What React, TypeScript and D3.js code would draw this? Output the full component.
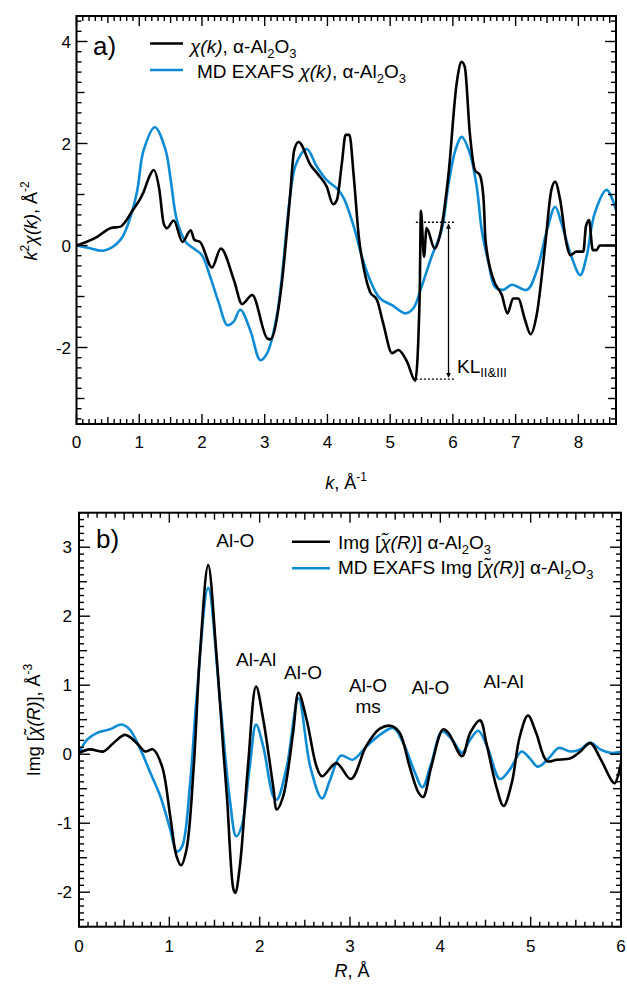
import React from "react";
import * as d3 from "d3";

// ---------- Panel a data: k^2 chi(k) ----------
const kExp = [0, 0.33, 0.54, 0.7, 0.89, 1.07, 1.15, 1.23, 1.32, 1.39, 1.44, 1.55, 1.69, 1.82, 1.88, 1.97, 2.16, 2.3, 2.51, 2.64, 2.8, 3.04, 3.09, 3.26, 3.4, 3.47, 3.54, 3.73, 3.86, 3.99, 4.09, 4.15, 4.23, 4.29, 4.35, 4.42, 4.5, 4.58, 4.68, 4.79, 4.89, 5.03, 5.13, 5.27, 5.4, 5.47, 5.49, 5.54, 5.58, 5.71, 5.8, 5.93, 6.06, 6.14, 6.19, 6.27, 6.35, 6.43, 6.49, 6.52, 6.65, 6.78, 6.87, 6.96, 7.04, 7.15, 7.24, 7.34, 7.47, 7.57, 7.63, 7.71, 7.81, 7.87, 7.97, 8.08, 8.12, 8.17, 8.23, 8.29, 8.34, 8.6];
const chiExp = [0, 0.17, 0.34, 0.37, 0.68, 1.05, 1.32, 1.48, 1.1, 0.43, 0.34, 0.49, 0.07, 0.3, 0.11, 0.07, -0.43, -0.06, -0.68, -1.15, -0.97, -1.82, -1.84, -0.87, 0.9, 1.87, 2.03, 1.58, 1.38, 1.15, 0.81, 0.89, 1.61, 2.17, 2.17, 1.35, 0.17, -0.45, -0.91, -1.07, -1.53, -2.11, -2.05, -2.28, -2.65, -1.0, 0.68, -0.22, 0.34, -0.06, 0.24, 1.4, 3.18, 3.6, 3.5, 2.2, 1.48, 1.38, 0.89, 0.1, -0.68, -0.97, -1.33, -1.04, -1.04, -1.46, -1.74, -1.33, 0, 1.09, 1.25, 0.89, 0.04, -0.19, -0.12, -0.12, 0.37, 0.5, -0.09, -0.09, 0, 0];

const kMD = [0, 0.2, 0.44, 0.7, 0.86, 0.97, 1.07, 1.25, 1.42, 1.5, 1.6, 1.74, 1.87, 2.0, 2.13, 2.27, 2.4, 2.5, 2.61, 2.77, 2.93, 3.04, 3.2, 3.41, 3.5, 3.67, 3.83, 3.99, 4.15, 4.26, 4.42, 4.55, 4.68, 4.84, 5.03, 5.24, 5.37, 5.5, 5.66, 5.82, 5.93, 6.04, 6.14, 6.27, 6.38, 6.46, 6.57, 6.67, 6.8, 6.94, 7.18, 7.34, 7.5, 7.63, 7.73, 7.89, 8.03, 8.13, 8.26, 8.45, 8.6];
const chiMD = [0, -0.05, -0.1, 0.11, 0.56, 1.09, 1.87, 2.32, 1.87, 1.3, 0.5, 0.07, -0.06, -0.19, -0.61, -1.13, -1.56, -1.5, -1.26, -1.66, -2.25, -2.11, -1.33, 1.02, 1.6, 1.89, 1.55, 1.28, 1.12, 0.93, 0.37, -0.22, -0.68, -1.04, -1.17, -1.33, -1.23, -0.81, -0.22, 0.3, 1.2, 1.87, 2.13, 1.81, 1.15, 0.3, -0.35, -0.81, -0.87, -0.77, -0.87, -0.48, 0.3, 0.76, 0.44, -0.22, -0.58, -0.22, 0.63, 1.09, 0.7];

// ---------- Panel b data: Img[chi(R)] ----------
const rExp = [0, 0.12, 0.27, 0.38, 0.51, 0.64, 0.73, 0.82, 0.92, 1.01, 1.08, 1.13, 1.19, 1.27, 1.34, 1.43, 1.52, 1.6, 1.64, 1.71, 1.73, 1.78, 1.87, 1.96, 2.04, 2.15, 2.19, 2.26, 2.37, 2.43, 2.52, 2.63, 2.69, 2.85, 3.01, 3.18, 3.33, 3.46, 3.55, 3.66, 3.76, 3.81, 3.9, 4.03, 4.09, 4.24, 4.33, 4.44, 4.51, 4.62, 4.7, 4.79, 4.88, 4.97, 5.06, 5.18, 5.29, 5.44, 5.55, 5.66, 5.77, 5.9, 5.93, 6.0];
const imgExp = [0.02, 0.07, 0.04, 0.16, 0.28, 0.16, 0.04, 0.07, -0.18, -0.9, -1.48, -1.61, -1.38, -0.18, 1.47, 2.74, 1.47, 0.02, -0.66, -1.96, -2.01, -1.63, -0.18, 0.98, 0.5, -0.47, -0.8, -0.61, 0.31, 0.89, 0.5, -0.18, -0.32, -0.13, -0.36, 0.12, 0.37, 0.41, 0.31, -0.18, -0.56, -0.62, -0.18, 0.36, 0.31, -0.03, 0.31, 0.49, 0.16, -0.47, -0.75, -0.42, 0.26, 0.56, 0.31, -0.1, -0.08, -0.06, 0.04, 0.16, -0.06, -0.39, -0.42, -0.13];

const rMD = [0, 0.09, 0.2, 0.34, 0.47, 0.56, 0.68, 0.79, 0.9, 1.01, 1.08, 1.14, 1.23, 1.3, 1.43, 1.56, 1.67, 1.74, 1.8, 1.89, 1.96, 2.04, 2.15, 2.19, 2.3, 2.43, 2.56, 2.69, 2.78, 2.9, 3.03, 3.18, 3.33, 3.48, 3.59, 3.72, 3.8, 3.9, 4.02, 4.13, 4.24, 4.33, 4.42, 4.53, 4.66, 4.77, 4.9, 4.99, 5.08, 5.2, 5.31, 5.44, 5.55, 5.66, 5.77, 5.88, 6.0];
const imgMD = [0.02, 0.21, 0.31, 0.36, 0.43, 0.36, 0.07, -0.27, -0.61, -1.09, -1.41, -1.34, -0.42, 0.79, 2.41, 0.79, -0.66, -1.19, -1.05, -0.18, 0.43, 0.11, -0.61, -0.66, -0.18, 0.81, -0.18, -0.64, -0.37, -0.02, -0.08, 0.11, 0.28, 0.38, 0.16, -0.27, -0.48, -0.13, 0.33, 0.21, 0.02, 0.21, 0.34, 0.07, -0.36, -0.22, 0.04, -0.06, -0.18, -0.06, 0.09, 0.04, 0.07, 0.17, 0.07, 0.02, 0.03];

// tick label lists
const aXTicks = [0, 1, 2, 3, 4, 5, 6, 7, 8];
const aYTicks = [-2, 0, 2, 4];
const bXTicks = [0, 1, 2, 3, 4, 5, 6];
const bYTicks = [-2, -1, 0, 1, 2, 3];

// peak labels for panel b
const peakLabels = [
  { text: "Al-O", x: 1.73, y: 3.0 },
  { text: "Al-Al", x: 1.96, y: 1.28 },
  { text: "Al-O", x: 2.48, y: 1.09 },
  { text: "Al-O", x: 3.2, y: 0.9 },
  { text: "Al-O", x: 3.89, y: 0.87 },
  { text: "Al-Al", x: 4.7, y: 0.96 },
];

const BLUE = "#0d8bd4";
const FONT = "'Liberation Sans', Arial, Helvetica, sans-serif";

function range(min: number, max: number, step: number) {
  const n = Math.round((max - min) / step);
  const out: number[] = [];
  for (let i = 0; i <= n; i++) out.push(+(min + i * step).toFixed(6));
  return out;
}
const isMult = (v: number, m: number) => Math.abs(v / m - Math.round(v / m)) < 1e-6;

type Frame = { x: d3.ScaleLinear<number, number>; y: d3.ScaleLinear<number, number> };

function AxisFrame({ x, y, xMinor, yMinor, yMajor2 }: Frame & { xMinor: number; yMinor: number; yMajor2?: boolean }) {
  const [x0, x1] = x.range();
  const [y0, y1] = y.range();
  const xd = x.domain();
  const yd = y.domain();
  const xt = range(Math.ceil(xd[0] / xMinor) * xMinor, Math.floor(xd[1] / xMinor + 1e-6) * xMinor, xMinor);
  const yt = range(Math.ceil(yd[0] / yMinor - 1e-6) * yMinor, Math.floor(yd[1] / yMinor + 1e-6) * yMinor, yMinor);
  const xLen = (v: number) => (isMult(v, 1) ? 10 : isMult(v, 0.5) ? 7 : 5);
  const yLen = (v: number) =>
    yMajor2 ? (isMult(v, 2) ? 11 : isMult(v, 1) ? 8 : 5) : isMult(v, 1) ? 11 : isMult(v, 0.5) ? 8 : 5;
  return (
    <g stroke="#000" strokeWidth={1.4}>
      {xt.map((v, i) => (
        <g key={"x" + i}>
          <line x1={x(v)} x2={x(v)} y1={y0} y2={y0 - xLen(v)} />
          <line x1={x(v)} x2={x(v)} y1={y1} y2={y1 + xLen(v)} />
        </g>
      ))}
      {yt.map((v, i) => (
        <g key={"y" + i}>
          <line x1={x0} x2={x0 + yLen(v)} y1={y(v)} y2={y(v)} />
          <line x1={x1} x2={x1 - yLen(v)} y1={y(v)} y2={y(v)} />
        </g>
      ))}
      <rect x={x0} y={y1} width={x1 - x0} height={y0 - y1} fill="none" strokeWidth={2} />
    </g>
  );
}

export default function App() {
  const ax = d3.scaleLinear().domain([0, 8.6]).range([76.5, 616]);
  const ay = d3.scaleLinear().domain([-3.5, 4.5]).range([424, 16]);
  const bx = d3.scaleLinear().domain([0, 6]).range([79, 621]);
  const by = d3.scaleLinear().domain([-2.5, 3.5]).range([926.7, 512.7]);

  const mono = d3.line<[number, number]>().curve(d3.curveMonotoneX);
  const smooth = d3.line<[number, number]>().curve(d3.curveCatmullRom.alpha(0.5));

  const expA = mono(kExp.map((k, i) => [ax(k), ay(chiExp[i])] as [number, number]));
  const mdA = smooth(kMD.map((k, i) => [ax(k), ay(chiMD[i])] as [number, number]));
  const expB = smooth(rExp.map((r, i) => [bx(r), by(imgExp[i])] as [number, number]));
  const mdB = smooth(rMD.map((r, i) => [bx(r), by(imgMD[i])] as [number, number]));

  const klTop = 0.455;
  const klBot = -2.62;
  const klX0 = 5.41;
  const klX1 = 6.03;
  const klArrow = 5.93;

  return (
    <svg width={627} height={984} style={{ position: "absolute", left: 0, top: 0, background: "#fff" }} fontFamily={FONT}>
      <defs>
        <marker id="ah" viewBox="0 0 10 10" refX="9" refY="5" markerWidth="5" markerHeight="7" orient="auto-start-reverse" markerUnits="userSpaceOnUse">
          <path d="M0,0 L10,5 L0,10 z" fill="#000" />
        </marker>
      </defs>
      {/* Panel a */}
      <path d={mdA || ""} fill="none" stroke={BLUE} strokeWidth={2.6} strokeLinejoin="round" />
      <path d={expA || ""} fill="none" stroke="#000" strokeWidth={2.6} strokeLinejoin="round" />
      <AxisFrame x={ax} y={ay} xMinor={0.1} yMinor={0.2} yMajor2 />
      {aXTicks.map((t) => (
        <text key={t} x={ax(t)} y={448} fontSize={17} textAnchor="middle">{t}</text>
      ))}
      {aYTicks.map((t) => (
        <text key={t} x={71} y={ay(t) + 6} fontSize={17} textAnchor="end">{t}</text>
      ))}
      <text x={346} y={489} fontSize={18} textAnchor="middle">
        <tspan fontStyle="italic">k</tspan>, Å<tspan fontSize={12} dy={-8}>-1</tspan>
      </text>
      <text transform="translate(37,221) rotate(-90)" fontSize={18} textAnchor="middle">
        <tspan fontStyle="italic">k</tspan><tspan fontSize={12} dy={-8}>2</tspan><tspan dy={8} fontStyle="italic">χ(k)</tspan>, Å<tspan fontSize={12} dy={-8}>-2</tspan>
      </text>
      <text x={93} y={55} fontSize={26}>a)</text>
      <line x1={150} x2={183} y1={43.5} y2={43.5} stroke="#000" strokeWidth={2.6} />
      <text x={190} y={53} fontSize={19}>
        <tspan fontStyle="italic">χ(k)</tspan>, α-Al<tspan fontSize={13} dy={5}>2</tspan><tspan dy={-5}>O</tspan><tspan fontSize={13} dy={5}>3</tspan>
      </text>
      <line x1={150} x2={183} y1={70} y2={70} stroke={BLUE} strokeWidth={2.6} />
      <text x={197} y={78} fontSize={19}>
        MD EXAFS <tspan fontStyle="italic">χ(k)</tspan>, α-Al<tspan fontSize={13} dy={5}>2</tspan><tspan dy={-5}>O</tspan><tspan fontSize={13} dy={5}>3</tspan>
      </text>
      <line x1={ax(klX0)} x2={ax(klX1)} y1={ay(klTop)} y2={ay(klTop)} stroke="#000" strokeWidth={1.4} strokeDasharray="2,2" />
      <line x1={ax(klX0)} x2={ax(klX1)} y1={ay(klBot)} y2={ay(klBot)} stroke="#000" strokeWidth={1.4} strokeDasharray="2,2" />
      <line x1={ax(klArrow)} x2={ax(klArrow)} y1={ay(klTop) + 2} y2={ay(klBot) - 2} stroke="#000" strokeWidth={1.3} markerStart="url(#ah)" markerEnd="url(#ah)" />
      <text x={457} y={373} fontSize={19}>
        KL<tspan fontSize={13} dy={4}>II&amp;III</tspan>
      </text>

      {/* Panel b */}
      <path d={mdB || ""} fill="none" stroke={BLUE} strokeWidth={2.6} strokeLinejoin="round" />
      <path d={expB || ""} fill="none" stroke="#000" strokeWidth={2.6} strokeLinejoin="round" />
      <AxisFrame x={bx} y={by} xMinor={0.1} yMinor={0.1} />
      {bXTicks.map((t) => (
        <text key={t} x={bx(t)} y={952} fontSize={17} textAnchor="middle">{t}</text>
      ))}
      {bYTicks.map((t) => (
        <text key={t} x={72} y={by(t) + 6} fontSize={17} textAnchor="end">{t}</text>
      ))}
      <text x={352} y={977} fontSize={18} textAnchor="middle">
        <tspan fontStyle="italic">R</tspan>, Å
      </text>
      <text transform="translate(40,720) rotate(-90)" fontSize={18} textAnchor="middle">
        Img [<tspan fontStyle="italic">χ̃(R)</tspan>], Å<tspan fontSize={12} dy={-8}>-3</tspan>
      </text>
      <text x={96} y={548} fontSize={26}>b)</text>
      <line x1={292} x2={330} y1={541.7} y2={541.7} stroke="#000" strokeWidth={2.6} />
      <text x={338} y={549} fontSize={19}>
        Img [<tspan fontStyle="italic">χ̃(R)</tspan>] α-Al<tspan fontSize={13} dy={5}>2</tspan><tspan dy={-5}>O</tspan><tspan fontSize={13} dy={5}>3</tspan>
      </text>
      <line x1={292} x2={330} y1={568.3} y2={568.3} stroke={BLUE} strokeWidth={2.6} />
      <text x={338} y={574} fontSize={19}>
        MD EXAFS Img [<tspan fontStyle="italic">χ̃(R)</tspan>] α-Al<tspan fontSize={13} dy={5}>2</tspan><tspan dy={-5}>O</tspan><tspan fontSize={13} dy={5}>3</tspan>
      </text>
      {peakLabels.map((p, i) => (
        <text key={i} x={bx(p.x)} y={by(p.y)} fontSize={19} textAnchor="middle">{p.text}</text>
      ))}
      <text x={bx(3.2)} y={713} fontSize={19} textAnchor="middle">ms</text>
    </svg>
  );
}
